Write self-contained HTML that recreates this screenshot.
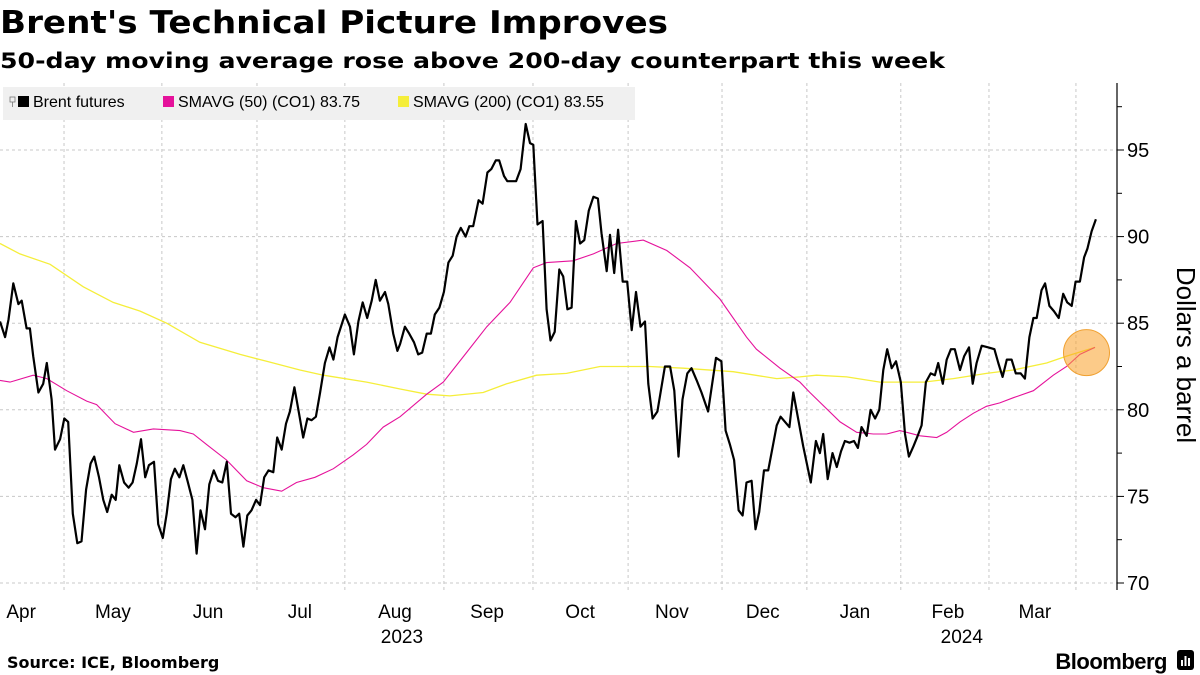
<!DOCTYPE html>
<html><head><meta charset="utf-8"><style>
body{margin:0;background:#fff;}
svg{display:block;font-family:"Liberation Sans",sans-serif;}
</style></head><body>
<svg id="chart" width="1200" height="675" viewBox="0 0 1200 675" xmlns="http://www.w3.org/2000/svg">
<text x="0" y="33" font-size="31" font-weight="bold" font-family="DejaVu Sans, sans-serif" textLength="668" lengthAdjust="spacingAndGlyphs">Brent's Technical Picture Improves</text>
<text x="0" y="68" font-size="21" font-weight="bold" font-family="DejaVu Sans, sans-serif" textLength="945" lengthAdjust="spacingAndGlyphs">50-day moving average rose above 200-day counterpart this week</text>
<g id="grid"></g>
<g id="series"></g>
<g id="axis"></g>
<g id="xaxis"></g>
<g>
<rect x="3" y="87" width="632" height="33" fill="#f0f0f0"/>
<g>
<rect x="10" y="97" width="5" height="5" fill="none" stroke="#777" stroke-width="0.8"/><line x1="12.5" y1="102" x2="12.5" y2="107" stroke="#777" stroke-width="0.8"/>
<rect x="18" y="96" width="11" height="11" fill="#000"/>
<text x="33" y="107" font-size="16">Brent futures</text></g>
<g>
<rect x="163" y="96" width="11" height="11" fill="#e5129b"/>
<text x="178" y="107" font-size="16">SMAVG (50) (CO1) 83.75</text></g>
<g>
<rect x="398" y="96" width="11" height="11" fill="#f5ee3a"/>
<text x="413" y="107" font-size="16">SMAVG (200) (CO1) 83.55</text></g>
</g>
<text transform="translate(1177,355) rotate(90)" text-anchor="middle" font-size="26">Dollars a barrel</text>
<text x="7" y="668" font-size="16" font-weight="bold" font-family="DejaVu Sans, sans-serif">Source: ICE, Bloomberg</text>
<text x="1167" y="669" font-size="22" font-weight="bold" text-anchor="end" letter-spacing="-0.5">Bloomberg</text>
<g><rect x="1177" y="650" width="17" height="20" rx="3" fill="#000"/><rect x="1181" y="660" width="2" height="6" fill="#fff"/><rect x="1184.5" y="656" width="2" height="10" fill="#fff"/><rect x="1188" y="658" width="2" height="8" fill="#fff"/></g>
</svg>
<script>
// Brent futures: days since start, price
const brentDays = [0,1.7,2.8,4.4,6.1,7.2,8.8,9.9,11.0,12.7,14.3,15.5,17.1,18.2,19.9,21.3,22.6,24.1,25.6,27.0,28.5,30.0,31.2,32.8,34.2,35.5,37.0,38.3,39.5,41.1,42.6,43.9,45.3,46.7,48.1,49.3,51.0,52.4,53.9,55.2,56.6,57.9,59.4,60.7,62.1,63.7,65.1,66.4,67.9,69.3,70.8,72.2,73.6,75.1,76.5,78.0,79.2,80.6,81.9,83.3,84.8,86.1,87.5,88.9,90.5,91.8,93.3,94.7,96.0,97.5,99.0,100.4,101.8,103.2,104.6,106.0,107.6,109.1,110.4,111.8,114.2,115.9,117.2,118.7,120.1,121.6,123.1,124.4,125.8,127.5,128.6,130.2,131.6,
132.5,134.1,135.5,137.1,138.5,139.8,141.3,142.7,144.0,145.5,147.0,148.5,149.9,151.2,152.6,154.2,155.4,156.7,158.5,159.8,161.4,162.7,164.2,165.3,166.9,168.0,170.9,172.4,174.1,175.5,176.6,178.0,179.7,181.0,182.3,183.7,185.2,186.5,187.9,189.3,190.7,192.1,193.5,195.0,196.5,198.0,199.2,200.9,202.0,203.4,204.7,206.2,207.7,209.2,210.6,212.1,213.6,214.7,216.1,217.7,220.2,221.9,223.3,224.7,226.0,227.6,229.0,230.7,232.3,234.5,237.1,238.9,240.3,241.7,243.1,244.6,245.9,247.2,248.9,250.2,251.4,253.0,254.4,255.9,257.2,258.5,
261.4,262.7,264.4,266.0,268.5,270.2,271.5,272.6,274.1,275.7,277.1,278.5,279.8,281.3,282.8,284.1,285.3,287.0,288.3,289.8,291.2,292.5,293.8,295.3,296.7,298.3,299.7,301.0,302.5,303.9,305.2,306.6,308.2,309.6,310.7,312.2,313.5,314.9,316.2,317.9,319.3,320.9,322.1,323.4,325.1,327.3,329.3,330.6,332.0,333.4,335.0,336.4,338.0,339.4,340.9,342.2,343.3,344.9,346.1,347.5,349.0,350.6,352.1,353.4,354.9,356.2,357.6,359.0,360.1,361.5,362.9];
const brentPrices = [85.1,84.2,85.2,87.3,86.1,86.3,84.7,84.7,83.1,81.0,81.5,82.7,80.6,77.7,78.3,79.5,79.3,74.0,72.3,72.4,75.4,76.9,77.3,76.1,74.8,74.1,75.1,74.8,76.8,75.8,75.5,75.8,76.9,78.3,76.1,76.8,77.0,73.4,72.6,74.0,76.0,76.6,76.1,76.8,75.9,74.8,71.7,74.2,73.1,75.7,76.5,75.9,75.8,77.0,74.0,73.8,74.0,72.1,73.9,74.2,74.8,74.5,76.1,76.5,76.4,78.4,77.7,79.2,79.9,81.3,79.8,78.4,79.5,79.4,79.6,81.0,82.7,83.6,82.9,84.2,85.5,84.8,83.2,85.1,86.2,85.3,86.3,87.5,86.3,86.8,86.1,84.4,83.4,
83.8,84.8,84.4,83.9,83.2,83.3,84.4,84.4,85.5,85.9,86.8,88.5,88.9,90.0,90.5,90.0,90.6,90.6,92.1,91.9,93.7,93.9,94.4,94.4,93.5,93.2,93.2,93.9,96.5,95.4,95.3,90.7,90.9,85.8,84.0,84.5,88.1,87.7,85.8,85.9,90.9,89.6,89.8,91.5,92.3,92.2,90.2,88.0,90.1,87.9,90.4,87.4,87.4,84.6,86.8,84.8,85.1,81.5,79.5,79.9,82.5,82.5,81.1,77.3,80.6,82.1,82.4,81.7,81.0,79.9,83.0,82.8,78.8,78.0,77.1,74.2,73.9,75.8,75.9,73.1,74.1,76.5,76.5,77.9,79.1,79.6,
79.0,81.0,79.4,77.9,75.8,78.2,77.5,78.6,76.0,77.5,76.7,77.6,78.2,78.1,78.2,77.8,79.0,78.5,80.0,79.5,80.0,82.3,83.5,82.4,82.8,81.6,78.6,77.3,77.9,78.5,79.1,81.6,82.1,82.0,82.7,81.5,82.9,83.5,83.5,82.3,83.1,83.6,81.5,82.7,83.7,83.6,83.5,82.7,81.9,82.9,82.9,82.1,82.1,81.8,84.2,85.3,85.3,86.9,87.3,86.0,85.7,85.3,86.7,86.2,86.0,87.4,87.4,88.8,89.3,90.3,91.0];
// 50-day SMA
const sma50Days = [0,3.3,11,15.5,22.1,28.7,32,38.1,44.2,50.8,59.6,64,68.4,75,81.7,87.2,93.3,98.2,104.3,110.4,117,121.4,126.9,132.5,141.3,146.8,154.5,161.2,168.9,176.6,181,189.8,196.5,204.2,213,220.8,228.5,238.4,247.2,250.5,258.3,264.9,268.2,278.2,283.7,289.2,293.6,298,304.7,310.2,313.5,317.9,322.3,326.7,331.1,335.6,342.2,348.8,353.2,357.6,362.6];
const sma50Values = [81.7,81.6,82.0,81.8,81.1,80.5,80.3,79.2,78.7,78.9,78.8,78.6,78.0,77.1,75.9,75.5,75.3,75.8,76.1,76.6,77.4,78.0,79.0,79.6,80.9,81.6,83.3,84.8,86.2,88.2,88.5,88.6,89.0,89.6,89.8,89.2,88.2,86.4,84.2,83.5,82.4,81.6,81.0,79.3,78.7,78.6,78.6,78.8,78.5,78.4,78.7,79.3,79.8,80.2,80.4,80.7,81.1,82.0,82.5,83.2,83.6];
// 200-day SMA
const sma200Days = [0,6.6,16.6,27.6,37.5,46.4,55.2,66.2,79.5,88.3,99.3,107.1,121.4,132.5,141.3,149,160,167.8,177.7,187.6,198.7,215.2,226.3,242.8,257.2,264.9,270.4,280.4,291.4,305.8,315.7,326.7,335.6,346.6,353.2,362.6];
const sma200Values = [89.6,89.0,88.4,87.1,86.2,85.7,85.0,83.9,83.2,82.8,82.3,82.0,81.6,81.2,80.9,80.8,81.0,81.5,82.0,82.1,82.5,82.5,82.4,82.2,81.8,81.9,82.0,81.9,81.6,81.6,81.8,82.1,82.3,82.7,83.1,83.6];
// axis ticks
const yTicks = [70,75,80,85,90,95];
const yMinorTicks = [72.5,77.5,82.5,87.5,92.5,97.5];
const monthBounds = [21.2,53.6,85.1,114.2,147.0,176.5,208.0,239.1,267.2,298.3,327.5,356.3];
const monthLabels = ["Apr","May","Jun","Jul","Aug","Sep","Oct","Nov","Dec","Jan","Feb","Mar"];
const monthLabelDays = [7,37.4,68.9,99.3,130.8,161.3,192.1,222.5,252.6,283.1,313.9,342.7];
const yearLabels = ["2023","2024"];
const yearLabelDays = [133.1,318.5];

const NS="http://www.w3.org/2000/svg";
const X0=0, X1=1117, DAY_MAX=369.9;
const Y_TOP=83, Y_BOT=590;
function xs(d){return X0+(d/DAY_MAX)*(X1-X0);}
function ys(v){return 583-(v-70)*17.32;}
function mk(tag,attrs,parent){const e=document.createElementNS(NS,tag);for(const k in attrs)e.setAttribute(k,attrs[k]);parent.appendChild(e);return e;}
const grid=document.getElementById('grid'), series=document.getElementById('series'), axis=document.getElementById('axis'), xaxis=document.getElementById('xaxis');

yTicks.forEach(v=>{
  const l=mk('line',{x1:0,x2:X1,y1:ys(v),y2:ys(v),stroke:'#c8c8c8','stroke-width':1,'stroke-dasharray':'3,3'},grid);
  
  
  const t=mk('line',{x1:X1,x2:X1+7,y1:ys(v),y2:ys(v),stroke:'#000','stroke-width':1},axis);
  
  
  const tx=mk('text',{x:X1+10,y:ys(v)+7,'font-size':20},axis);
  tx.textContent=v;
  
  
});
yMinorTicks.forEach(v=>{
  const t=mk('line',{x1:X1,x2:X1+5,y1:ys(v),y2:ys(v),stroke:'#000','stroke-width':1},axis);
  
  
});
const ax=mk('line',{x1:X1,x2:X1,y1:Y_TOP,y2:Y_BOT,stroke:'#000','stroke-width':1.2},axis);



monthBounds.forEach(d=>{
  const l=mk('line',{x1:xs(d),x2:xs(d),y1:Y_TOP,y2:Y_BOT,stroke:'#c8c8c8','stroke-width':1,'stroke-dasharray':'3,3'},grid);
  
  
});
monthLabels.forEach((m,i)=>{
  const t=mk('text',{x:xs(monthLabelDays[i]),y:618,'font-size':19,'text-anchor':'middle'},xaxis);
  t.textContent=m;
  
  
});
yearLabels.forEach((yl,i)=>{
  const t=mk('text',{x:xs(yearLabelDays[i]),y:643,'font-size':19,'text-anchor':'middle'},xaxis);
  t.textContent=yl;
  
  
});

function pts(days,vals){return days.map((d,i)=>xs(d).toFixed(1)+','+ys(vals[i]).toFixed(1)).join(' ');}
const s200=mk('polyline',{points:pts(sma200Days,sma200Values),fill:'none',stroke:'#f5ee3a','stroke-width':1.3},series);


const s50=mk('polyline',{points:pts(sma50Days,sma50Values),fill:'none',stroke:'#e5129b','stroke-width':1.1},series);


const br=mk('polyline',{points:pts(brentDays,brentPrices),fill:'none',stroke:'#000','stroke-width':2.2,'stroke-linejoin':'round'},series);


const cd=sma50Days[sma50Days.length-1]-2.8, cv=sma50Values[sma50Values.length-1]-0.3;
const c=mk('circle',{cx:xs(cd),cy:ys(cv),r:23,fill:'rgba(250,160,40,0.55)',stroke:'#f0a030','stroke-width':1},series);


</script>
</body></html>
